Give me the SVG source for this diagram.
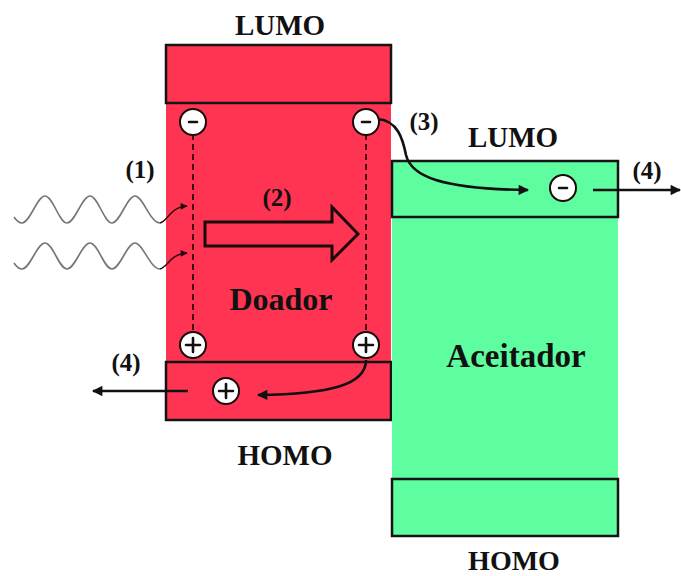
<svg xmlns="http://www.w3.org/2000/svg" width="681" height="576" viewBox="0 0 681 576">
<style>
.lbl{font-family:"Liberation Serif","Times New Roman",serif;font-weight:bold;fill:#111;text-anchor:middle}
.red{fill:#FF3452}
.grn{fill:#5DFDA0}
.box{stroke:#141414;stroke-width:2.5}
.dash{stroke:#4a0a12;stroke-width:2;stroke-dasharray:6 4;fill:none}
.ch{fill:#fff;stroke:#1a0a0a;stroke-width:2}
.sign{stroke:#111;stroke-width:2.6;stroke-linecap:round}
.wave{fill:none;stroke:#777;stroke-width:1.6}
.conn{fill:none;stroke:#111;stroke-width:2.6}
.thin{fill:none;stroke:#2a0a10;stroke-width:1.4}
</style>
<defs>
<marker id="ah" viewBox="0 0 10 10" refX="9" refY="5" markerWidth="5" markerHeight="4" markerUnits="strokeWidth" orient="auto">
<path d="M0,0 L10,5 L0,10 Z" fill="#111"/>
</marker>
<marker id="ahs" viewBox="0 0 10 10" refX="9" refY="5" markerWidth="6" markerHeight="5" markerUnits="strokeWidth" orient="auto">
<path d="M0,0 L10,5 L0,10 Z" fill="#2a0a10"/>
</marker>
</defs>
<rect width="681" height="576" fill="#fff"/>

<g id="donor">
<rect class="red" x="166" y="100" width="225" height="265"/>
<rect class="red box" x="166" y="45" width="225" height="58"/>
<rect class="red box" x="166" y="362" width="225" height="58"/>
<text class="lbl" x="280" y="35" font-size="29">LUMO</text>
<text class="lbl" x="285" y="465" font-size="29">HOMO</text>
<text class="lbl" x="281" y="310" font-size="32">Doador</text>
</g>

<g id="acceptor">
<rect class="grn" x="392" y="161" width="226" height="320"/>
<rect class="grn box" x="392" y="161" width="226" height="56"/>
<rect class="grn box" x="392" y="479" width="226" height="57"/>
<text class="lbl" x="513" y="147" font-size="29">LUMO</text>
<text class="lbl" x="514" y="570" font-size="28">HOMO</text>
<text class="lbl" x="516" y="367" font-size="33">Aceitador</text>
</g>

<g id="light">
<path class="wave" d="M14,217 Q18,223 22,223 C30,223 37,196 45,196 C53,196 59,223 67,223 C75,223 82,196 90,196 C98,196 104,223 112,223 C120,223 127,196 135,196 C143,196 150,223 160,223"/>
<path class="wave" d="M14,263 Q18,269 22,269 C30,269 37,243 45,243 C53,243 59,269 67,269 C75,269 82,243 90,243 C98,243 104,269 112,269 C120,269 127,243 135,243 C143,243 150,269 160,269"/>
<text class="lbl" x="140" y="178" font-size="25">(1)</text>
</g>

<g id="transfer">
<polygon class="red" points="205,222 332,222 332,207 358,234 332,260 332,246 205,246" stroke="#1a0a0a" stroke-width="3" stroke-linejoin="miter"/>
<text class="lbl" x="277" y="206" font-size="25">(2)</text>
</g>

<g id="connectors">
<path class="thin" d="M160,223 C168,221 170,207 187,206" marker-end="url(#ahs)"/>
<path class="thin" d="M160,269 C168,267 170,254 187,253" marker-end="url(#ahs)"/>
<line class="dash" x1="193" y1="134" x2="193" y2="333"/>
<line class="dash" x1="366" y1="134" x2="366" y2="333"/>
<path class="conn" d="M377,119 C398,120 403,140 406,155 C411,176 440,189 528,190" marker-end="url(#ah)"/>
<line class="conn" x1="593" y1="190" x2="680" y2="190" marker-end="url(#ah)"/>
<path class="conn" d="M366,360 C366,385 330,394 258,395" marker-end="url(#ah)"/>
<line class="conn" x1="188" y1="391" x2="93" y2="391" marker-end="url(#ah)"/>
</g>

<g id="labels">
<text class="lbl" x="424" y="130" font-size="25">(3)</text>
<text class="lbl" x="647" y="179" font-size="25">(4)</text>
<text class="lbl" x="126" y="371" font-size="25">(4)</text>
</g>

<g id="charges">
<circle class="ch" cx="193" cy="122" r="13"/><line class="sign" x1="189" y1="122" x2="197" y2="122"/>
<circle class="ch" cx="366" cy="122" r="13"/><line class="sign" x1="362" y1="122" x2="370" y2="122"/>
<circle class="ch" cx="563" cy="188" r="13"/><line class="sign" x1="559" y1="188" x2="567" y2="188"/>
<circle class="ch" cx="193" cy="345" r="13"/><path class="sign" d="M186,345 H200 M193,338 V352"/>
<circle class="ch" cx="366" cy="345" r="13"/><path class="sign" d="M359,345 H373 M366,338 V352"/>
<circle class="ch" cx="226" cy="391" r="13"/><path class="sign" d="M219,391 H233 M226,384 V398"/>
</g>
</svg>
